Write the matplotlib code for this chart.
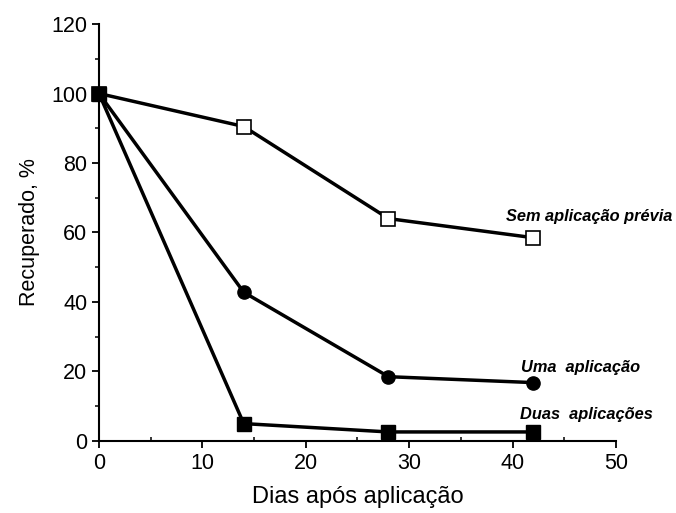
import matplotlib.pyplot as plt
from matplotlib.ticker import MultipleLocator

# dados
dias = [0, 14, 28, 42]
sem_aplicacao = [100, 90.5, 64, 58.5]
uma_aplicacao = [100, 42.8, 18.5, 16.8]
duas_aplicacoes = [100, 5, 2.6, 2.6]

plt.rcParams['font.family'] = ['Liberation Sans', 'DejaVu Sans']

fig = plt.figure(figsize=(6.76, 5.13), dpi=100)
ax = fig.add_axes([0.1464, 0.1404, 0.7648, 0.8128])

ax.plot(dias, sem_aplicacao, color='black', lw=2.5, marker='s', ms=10,
        mfc='white', mec='black', mew=1.2, zorder=3, clip_on=False)
ax.plot(dias, uma_aplicacao, color='black', lw=2.5, marker='o', ms=9.5,
        mfc='black', mec='black', zorder=4, clip_on=False)
ax.plot(dias, duas_aplicacoes, color='black', lw=2.5, marker='s', ms=10,
        mfc='black', mec='black', zorder=5, clip_on=False)

ax.set_xlim(0, 50)
ax.set_ylim(0, 120)
ax.xaxis.set_major_locator(MultipleLocator(10))
ax.xaxis.set_minor_locator(MultipleLocator(5))
ax.yaxis.set_major_locator(MultipleLocator(20))
ax.yaxis.set_minor_locator(MultipleLocator(10))
ax.spines['top'].set_visible(False)
ax.spines['right'].set_visible(False)
ax.spines['left'].set_linewidth(1.5)
ax.spines['bottom'].set_linewidth(1.5)
ax.tick_params(which='major', length=5, width=1.3, labelsize=15.5, direction='out')
ax.tick_params(which='minor', length=3, width=1.1, direction='out')
ax.tick_params(axis='x', which='minor', direction='in')

ax.set_xlabel('Dias após aplicação', fontsize=17, labelpad=9)
ax.set_ylabel('Recuperado, %', fontsize=15.5, labelpad=8)

anot = dict(fontsize=11.8, fontweight='bold', fontstyle='italic', va='center', ha='left')
ax.text(39.4, 64.7, 'Sem aplicação prévia', **anot)
ax.text(40.8, 21.2, 'Uma  aplicação', **anot)
ax.text(40.7, 7.5, 'Duas  aplicações', **anot)

fig.savefig('out.png', dpi=100)
